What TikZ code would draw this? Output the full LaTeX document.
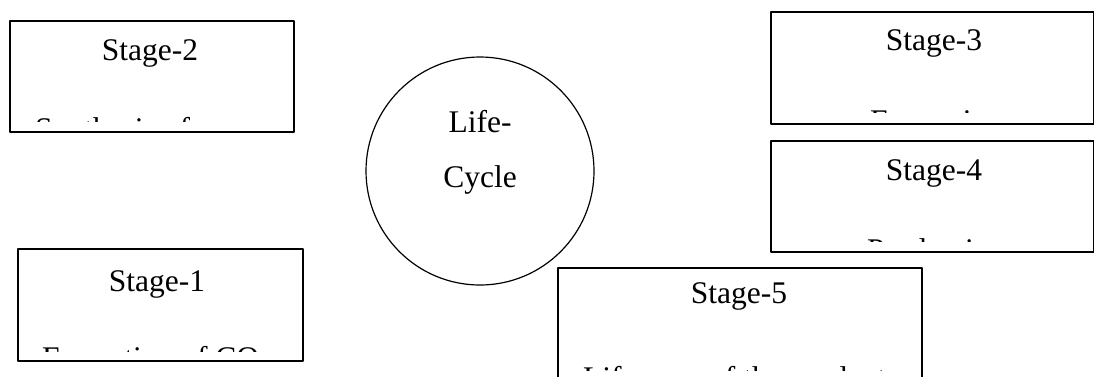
\documentclass[tikz,border=0pt]{standalone}
\usepackage{fontspec}
\setmainfont{Liberation Serif}
\begin{document}
\begin{tikzpicture}[x=1pt,y=-1pt,line join=round]
	\tikzset{stage box/.style={draw,line width=1.6pt,inner sep=0pt,anchor=north west},
		big text/.style={font=\fontsize{31.5}{38}\selectfont,inner sep=0pt},
		title text/.style={big text,anchor=base},
		cut text/.style={big text,anchor=base west}}
	\useasboundingbox (0,0) rectangle (1094,376);
	% boxes
	\node[stage box,minimum width=284pt,minimum height=111pt] (s2) at (9,20) {};
	\node[stage box,minimum width=285pt,minimum height=112pt] (s1) at (17,248) {};
	\node[stage box,minimum width=323pt,minimum height=112pt] (s3) at (770,11) {};
	\node[stage box,minimum width=323pt,minimum height=111pt] (s4) at (770,140) {};
	\node[stage box,minimum width=364pt,minimum height=130pt] (s5) at (557,267) {};
	\node[draw,circle,line width=1.2pt,minimum size=228pt,inner sep=0pt] (lc) at (480,171) {};
	% titles
	\node[title text] (t2) at (150,60) {Stage-2};
	\node[title text] (t1) at (157,291) {Stage-1};
	\node[title text] (t3) at (934,50) {Stage-3};
	\node[title text] (t4) at (934,180) {Stage-4};
	\node[title text] (t5) at (739,303) {Stage-5};
	\node[title text] (life) at (480,132) {Life-};
	\node[title text] (cycle) at (480,187) {Cycle};
	% second lines, cut off by the text frame
	\begin{scope}
		\clip (s2.south west) ++(0,-11) rectangle (s2.north east);
		\node[cut text] (d2) at (35,139) {Synthesis of};
	\end{scope}
	\begin{scope}
		\clip (s1.south west) ++(0,-10) rectangle (s1.north east);
		\node[cut text] (d1) at (42,368) {Formation of CO};
	\end{scope}
	\begin{scope}
		\clip (s3.south west) ++(0,-12) rectangle (s3.north east);
		\node[cut text] (d3) at (870,131) {Expansion};
	\end{scope}
	\begin{scope}
		\clip (s4.south west) ++(0,-11) rectangle (s4.north east);
		\node[cut text] (d4) at (867,260) {Production};
	\end{scope}
	\begin{scope}
		\clip (557,267) rectangle (921,370);
		\node[cut text] (d5) at (583,388) {Life span of the product};
	\end{scope}
\end{tikzpicture}
\end{document}
